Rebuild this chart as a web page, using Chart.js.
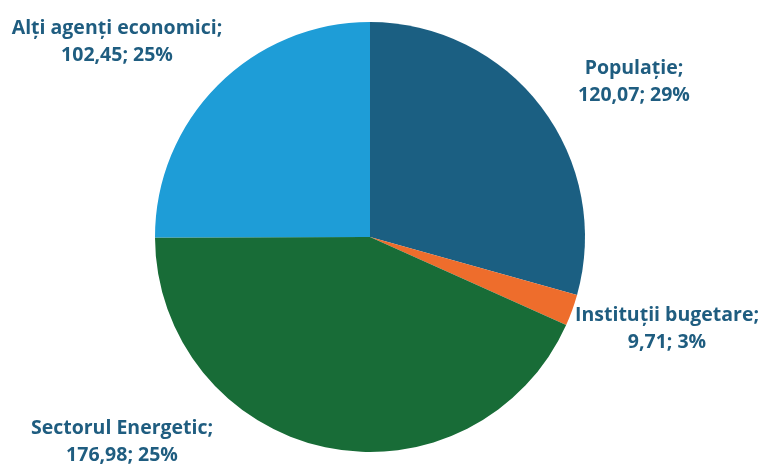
<!DOCTYPE html>
<html>
<head>
<meta charset="utf-8">
<script src="https://cdn.jsdelivr.net/npm/chart.js@4"></script>
<style>
  html, body { margin: 0; padding: 0; background: #ffffff; }
  canvas { display: block; }
</style>
</head>
<body>
<canvas id="c" width="760" height="464"></canvas>
<script>
// Consumption by group (values and share labels)
const categories = ['Populație', 'Instituții bugetare', 'Sectorul Energetic', 'Alți agenți economici'];
const values = [120.07, 9.71, 176.98, 102.45];
const valueLabels = ['120,07', '9,71', '176,98', '102,45'];
const shareLabels = ['29%', '3%', '25%', '25%'];

const sliceColors = ['#1b5f82', '#ee6d2c', '#186c37', '#1e9dd7'];
const textColor = '#1f5d80';

// Label anchor points (x, y of the first line's centre)
const labelAnchors = [
  [634, 68],
  [667, 315],
  [122, 428],
  [117, 28]
];

const labelPlugin = {
  id: 'sliceLabels',
  afterDatasetsDraw(chart) {
    const ctx = chart.ctx;
    ctx.save();
    ctx.font = 'bold 19.5px "Open Sans", Lato, sans-serif';
    ctx.fillStyle = textColor;
    ctx.textAlign = 'center';
    ctx.textBaseline = 'middle';
    chart.data.labels.forEach((name, i) => {
      const [x, y] = labelAnchors[i];
      ctx.fillText(name + ';', x, y);
      ctx.fillText(valueLabels[i] + '; ' + shareLabels[i], x, y + 27);
    });
    ctx.restore();
  }
};

new Chart(document.getElementById('c'), {
  type: 'pie',
  data: {
    labels: categories,
    datasets: [{
      data: values,
      backgroundColor: sliceColors,
      borderWidth: 0
    }]
  },
  options: {
    responsive: false,
    animation: false,
    layout: { padding: { left: 155, right: 175, top: 22, bottom: 12 } },
    plugins: {
      legend: { display: false },
      tooltip: { enabled: false }
    }
  },
  plugins: [labelPlugin]
});
</script>
</body>
</html>
